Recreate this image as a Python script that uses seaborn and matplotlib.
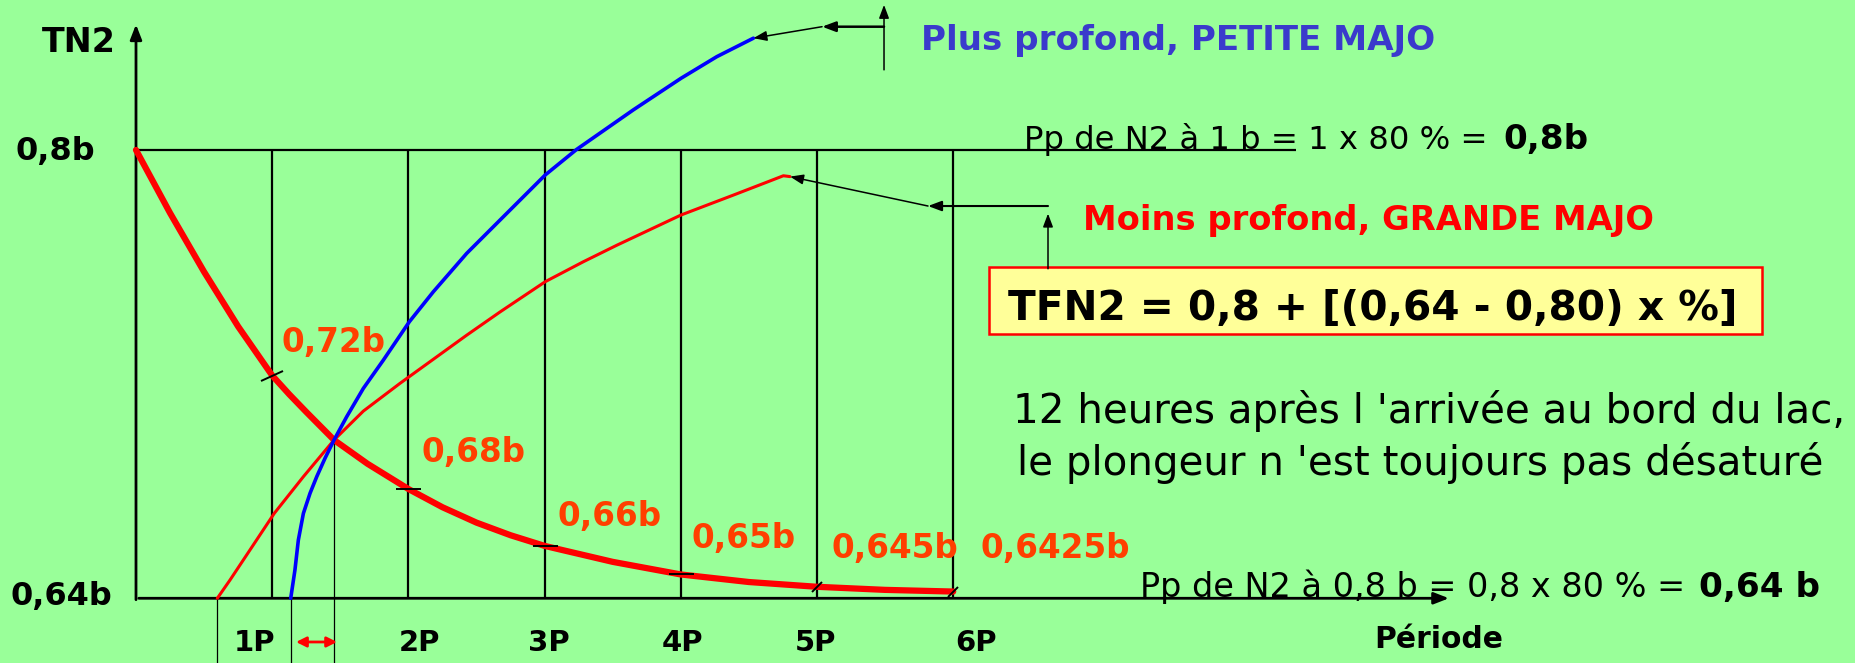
import numpy as np
import pandas as pd
import matplotlib.pyplot as plt
import seaborn as sns
from matplotlib.patches import Rectangle
from matplotlib.markers import MarkerStyle
from matplotlib.transforms import Affine2D

# ==========================
# DATA
# ==========================

periods = [1, 2, 3, 4, 5, 6]
period_labels = ["1P", "2P", "3P", "4P", "5P", "6P"]
period_label_x = [0.874, 2.085, 3.033, 4.009, 4.993, 6.167]

# desaturation curve (thick red)
desat_t = [0, 0.25, 0.5, 0.75, 1.0, 1.125, 1.25, 1.454, 1.7, 2.0, 2.25, 2.5,
           2.75, 3.0, 3.5, 4.0, 4.5, 5.0, 5.5, 6.0]
desat_v = [0.8, 0.7775, 0.7565, 0.737, 0.7195, 0.7128, 0.7065, 0.6965, 0.688,
           0.679, 0.6725, 0.667, 0.6625, 0.6587, 0.653, 0.6485, 0.6458,
           0.6441, 0.643, 0.6424]

# Moins profond, GRANDE MAJO (thin red)
grande_t = [0.597, 0.69, 0.813, 1.015, 1.229, 1.454, 1.669, 1.938, 2.183,
            2.428, 2.673, 3.005, 3.284, 3.53, 4.002, 4.386, 4.631, 4.753, 4.802]
grande_v = [0.64, 0.6465, 0.6555, 0.6703, 0.6834, 0.6965, 0.7068, 0.7167,
            0.7253, 0.7339, 0.7422, 0.753, 0.7601, 0.766, 0.7768, 0.7839,
            0.7885, 0.7908, 0.7905]

# Plus profond, PETITE MAJO (blue)
petite_t = [1.136, 1.167, 1.192, 1.229, 1.278, 1.327, 1.388, 1.454, 1.547,
            1.669, 1.816, 2.007, 2.183, 2.428, 2.673, 3.005, 3.235, 3.651,
            4.002, 4.264, 4.533]
petite_v = [0.64, 0.6501, 0.6608, 0.6703, 0.6775, 0.6834, 0.69, 0.6965,
            0.7048, 0.7149, 0.725, 0.7387, 0.7494, 0.7631, 0.775, 0.7911,
            0.8002, 0.8143, 0.8256, 0.8333, 0.8399]

value_labels = ["0,72b", "0,68b", "0,66b", "0,65b", "0,645b", "0,6425b"]
value_x = [1.07, 2.098, 3.098, 4.082, 5.103, 6.197]
value_y = [0.728, 0.6888, 0.6658, 0.658, 0.6544, 0.6544]
tick_angles = [25, 0, 0, 0, 45, 45]

# ==========================
# STYLE
# ==========================

bg = "#99FF99"
red = "#FF0000"
label_red = "#FF3F00"
blue = "#0000FF"
text_blue = "#3A3ACC"

sns.set_style("white")
plt.rcParams["font.family"] = ["DejaVu Sans"]
plt.rcParams["text.color"] = "black"

fig = plt.figure(figsize=(18.55, 6.63), dpi=100)
fig.patch.set_facecolor(bg)
ax = fig.add_axes([0, 0, 1, 1])
ax.set_facecolor(bg)
ax.set_xlim(-0.9985, 12.621)
ax.set_ylim(0.6169, 0.85353)
ax.axis("off")
renderer = fig.canvas.get_renderer()


def fit(t, width_px):
    w = t.get_window_extent(renderer).width
    t.set_fontsize(t.get_fontsize() * width_px / w)
    return t


# ==========================
# GRID AND AXES
# ==========================

ax.vlines(periods, 0.64, 0.8, color="black", lw=1.6, zorder=1)
ax.hlines(0.8, 0, 8.52, color="black", lw=1.6, zorder=1)

ax.annotate("", xy=(0, 0.8458), xytext=(0, 0.6385),
            arrowprops=dict(arrowstyle="-|>,head_length=0.9,head_width=0.35",
                            color="black", lw=2))
ax.annotate("", xy=(9.66, 0.64), xytext=(0, 0.64),
            arrowprops=dict(arrowstyle="-|>,head_length=0.9,head_width=0.35",
                            color="black", lw=2))

# drop lines below the axis
ax.vlines([grande_t[0], petite_t[0]], 0.6169, 0.64, color="black", lw=0.9)
ax.vlines(grande_t[5], 0.6169, grande_v[5], color="black", lw=0.9)
ax.annotate("", xy=(1.175, 0.6244), xytext=(1.476, 0.6244),
            arrowprops=dict(arrowstyle="<|-|>,head_length=0.6,head_width=0.3",
                            color=red, lw=2, shrinkA=0, shrinkB=0))

# ==========================
# CURVES
# ==========================

desat = pd.DataFrame({"t": desat_t, "v": desat_v})
sns.lineplot(data=desat, x="t", y="v", color=red, lw=4.5,
             estimator=None, sort=False, ax=ax, zorder=3,
             solid_joinstyle="round")
sns.lineplot(x=grande_t, y=grande_v, color=red, lw=2.2,
             estimator=None, sort=False, ax=ax, zorder=3,
             solid_joinstyle="round")
sns.lineplot(x=petite_t, y=petite_v, color=blue, lw=2.6,
             estimator=None, sort=False, ax=ax, zorder=3,
             solid_joinstyle="round")

ticks = desat[desat["t"].isin(periods)]
for (tx, tv), ang in zip(ticks[["t", "v"]].values, tick_angles):
    m = MarkerStyle("_", transform=Affine2D().rotate_deg(ang))
    ax.plot(tx, tv, marker=m, ms=18 if ang < 40 else 11, mew=1.4,
            color="black", zorder=4)

# ==========================
# LABELS
# ==========================

ax.text(-0.69, 0.835, "TN2", fontsize=24, fontweight="bold", va="baseline")
ax.text(-0.884, 0.7965, "0,8b", fontsize=23, fontweight="bold", va="baseline")
ax.text(-0.918, 0.6376, "0,64b", fontsize=23, fontweight="bold", va="baseline")

for lx, lab in zip(period_label_x, period_labels):
    ax.text(lx, 0.6212, lab, fontsize=21, fontweight="bold",
            ha="center", va="baseline")

t = ax.text(9.09, 0.6224, "Période", fontsize=20, fontweight="bold",
            va="baseline")
fit(t, 129)

for lx, ly, lab in zip(value_x, value_y, value_labels):
    ax.text(lx, ly, lab, fontsize=23.5, fontweight="bold", color=label_red,
            va="baseline")

t = ax.text(6.52, 0.8004, "Pp de N2 à 1 b = 1 x 80 % =", fontsize=24,
            va="baseline")
fit(t, 464)
t = ax.text(10.037, 0.8004, "0,8b", fontsize=24, fontweight="bold",
            va="baseline")
fit(t, 85)

t = ax.text(7.371, 0.6405, "Pp de N2 à 0,8 b = 0,8 x 80 % =", fontsize=24,
            va="baseline")
fit(t, 547)
t = ax.text(11.476, 0.6405, "0,64 b", fontsize=24, fontweight="bold",
            va="baseline")
fit(t, 121)

t = ax.text(5.764, 0.8357, "Plus profond, PETITE MAJO", fontsize=24,
            fontweight="bold", color=text_blue, va="baseline")
fit(t, 516)
t = ax.text(6.953, 0.7715, "Moins profond, GRANDE MAJO", fontsize=24,
            fontweight="bold", color=red, va="baseline")
fit(t, 571)

# pointer arrows
arrow_kw = dict(arrowstyle="-|>,head_length=0.8,head_width=0.3",
                color="black", lw=1.1, shrinkA=0, shrinkB=0)
ax.annotate("", xy=(5.492, 0.8518), xytext=(5.492, 0.8286), arrowprops=arrow_kw)
ax.annotate("", xy=(5.037, 0.844), xytext=(5.492, 0.844),
            arrowprops=dict(arrow_kw, lw=1.8))
ax.annotate("", xy=(petite_t[-1], petite_v[-1]), xytext=(5.037, 0.844),
            arrowprops=arrow_kw)

ax.annotate("", xy=(6.696, 0.7773), xytext=(6.696, 0.7576), arrowprops=arrow_kw)
ax.annotate("", xy=(5.815, 0.78), xytext=(6.696, 0.78),
            arrowprops=dict(arrow_kw, lw=1.5))
ax.annotate("", xy=(grande_t[-1], grande_v[-1]), xytext=(5.815, 0.78),
            arrowprops=arrow_kw)

# formula box
ax.add_patch(Rectangle((6.26, 0.7343), 5.68, 0.0239, facecolor="#FFFF99",
                       edgecolor=red, lw=1.8, zorder=2))
t = ax.text(6.40, 0.7394, "TFN2 = 0,8 + [(0,64 - 0,80) x %]", fontsize=28,
            fontweight="bold", va="baseline", zorder=3)
fit(t, 730)

t1 = ax.text(6.439, 0.7026, "12 heures après l 'arrivée au bord du lac,",
             fontsize=24, va="baseline")
fit(t1, 833)
ax.text(6.468, 0.684, "le plongeur n 'est toujours pas désaturé",
        fontsize=t1.get_fontsize(), va="baseline")

plt.savefig("out.png", dpi=100, facecolor=bg)
